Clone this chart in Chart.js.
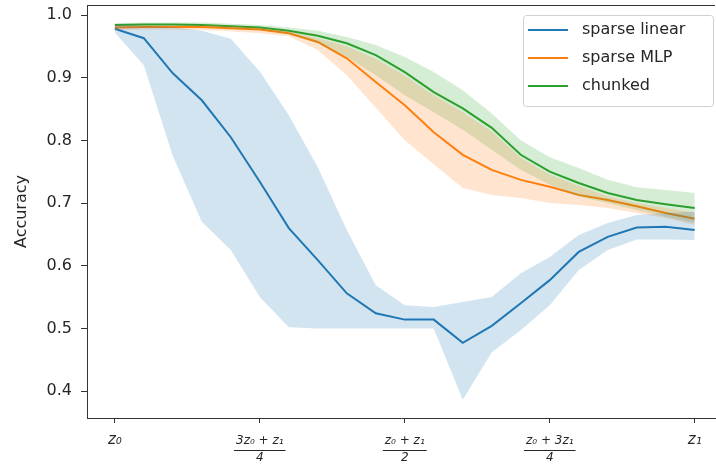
<!DOCTYPE html>
<html>
<head>
<meta charset="utf-8">
<script src="https://cdn.jsdelivr.net/npm/chart.js@4.4.1/dist/chart.umd.min.js"></script>
<style>
  body { margin: 0; background: #fff; }
  #wrap { width: 716px; height: 467px; }
</style>
</head>
<body>
<div id="wrap"><canvas id="chart" width="716" height="467"></canvas></div>
<script>
// positions along the interpolation z0 -> z1
const xValues = [0, 0.05, 0.1, 0.15, 0.2, 0.25, 0.3, 0.35, 0.4, 0.45, 0.5,
                 0.55, 0.6, 0.65, 0.7, 0.75, 0.8, 0.85, 0.9, 0.95, 1];
const xTickValues = [0, 0.25, 0.5, 0.75, 1];
const xTickLabels = [['z₀'], ['3z₀ + z₁', '4'], ['z₀ + z₁', '2'], ['z₀ + 3z₁', '4'], ['z₁']];
const yTickValues = [0.4, 0.5, 0.6, 0.7, 0.8, 0.9, 1.0];

const seriesNames = ['sparse linear', 'sparse MLP', 'chunked'];

const linearMean  = [0.978, 0.963, 0.907, 0.864, 0.805, 0.734, 0.660, 0.609, 0.556, 0.524, 0.514,
                     0.514, 0.477, 0.504, 0.540, 0.577, 0.622, 0.646, 0.661, 0.662, 0.657];
const linearUpper = [0.985, 0.983, 0.981, 0.975, 0.962, 0.910, 0.840, 0.757, 0.657, 0.569, 0.537,
                     0.534, 0.542, 0.550, 0.588, 0.614, 0.649, 0.668, 0.681, 0.684, 0.686];
const linearLower = [0.972, 0.920, 0.775, 0.670, 0.625, 0.550, 0.502, 0.500, 0.500, 0.500, 0.500,
                     0.500, 0.386, 0.462, 0.497, 0.537, 0.593, 0.625, 0.642, 0.642, 0.641];

const mlpMean  = [0.980, 0.981, 0.981, 0.981, 0.979, 0.977, 0.971, 0.957, 0.931, 0.893, 0.856,
                  0.813, 0.777, 0.753, 0.737, 0.726, 0.713, 0.705, 0.695, 0.684, 0.675];
const mlpUpper = [0.984, 0.984, 0.984, 0.984, 0.983, 0.980, 0.974, 0.963, 0.950, 0.930, 0.903,
                  0.872, 0.845, 0.814, 0.772, 0.745, 0.727, 0.711, 0.700, 0.692, 0.685];
const mlpLower = [0.976, 0.977, 0.977, 0.976, 0.974, 0.971, 0.966, 0.944, 0.904, 0.852, 0.800,
                  0.762, 0.724, 0.713, 0.708, 0.700, 0.697, 0.692, 0.684, 0.676, 0.665];

const chunkedMean  = [0.984, 0.985, 0.985, 0.984, 0.982, 0.980, 0.975, 0.967, 0.955, 0.936, 0.909,
                      0.877, 0.851, 0.820, 0.777, 0.750, 0.732, 0.716, 0.705, 0.698, 0.692];
const chunkedUpper = [0.987, 0.988, 0.988, 0.988, 0.986, 0.984, 0.980, 0.975, 0.965, 0.952, 0.933,
                      0.909, 0.880, 0.843, 0.800, 0.773, 0.756, 0.737, 0.725, 0.721, 0.716];
const chunkedLower = [0.981, 0.982, 0.982, 0.982, 0.979, 0.976, 0.970, 0.955, 0.933, 0.904, 0.872,
                      0.845, 0.817, 0.785, 0.753, 0.729, 0.710, 0.700, 0.689, 0.678, 0.668];

const colors = ['#1f77b4', '#ff7f0e', '#2ca02c'];
const bandColors = ['rgba(31,119,180,0.2)', 'rgba(255,127,14,0.2)', 'rgba(44,160,44,0.2)'];

function pts(ys) {
    return ys.map((y, i) => ({ x: xValues[i], y: y }));
}

function band(upper, lower, idx) {
    return [
        { data: pts(upper), borderWidth: 0, pointRadius: 0, fill: false },
        { data: pts(lower), borderWidth: 0, pointRadius: 0, fill: '-1',
          backgroundColor: bandColors[idx] }
    ];
}

function meanLine(ys, idx) {
    return { label: seriesNames[idx], data: pts(ys), borderColor: colors[idx],
             borderWidth: 2, pointRadius: 0, fill: false, tension: 0 };
}

const datasets = [
    ...band(linearUpper, linearLower, 0),
    ...band(mlpUpper, mlpLower, 1),
    ...band(chunkedUpper, chunkedLower, 2),
    meanLine(linearMean, 0),
    meanLine(mlpMean, 1),
    meanLine(chunkedMean, 2)
];

const textColor = '#262626';
const spineColor = '#333';
const fracFont = { family: 'DejaVu Sans', size: 12, style: 'italic', lineHeight: 1.42 };
const endFont = { family: 'DejaVu Sans', size: 15, style: 'italic', lineHeight: 1.0 };

// top spine, fraction bars under x tick labels, and the boxed legend
const decorations = {
    id: 'decorations',
    afterDraw(chart) {
        const ctx = chart.ctx;
        const area = chart.chartArea;
        ctx.save();
        ctx.strokeStyle = spineColor;
        ctx.lineWidth = 1;
        ctx.beginPath();
        ctx.moveTo(area.left, area.top + 0.5);
        ctx.lineTo(area.right, area.top + 0.5);
        ctx.stroke();

        // fraction bars
        const xs = chart.scales.x;
        ctx.font = 'italic 12px "DejaVu Sans"';
        xs.ticks.forEach((t, i) => {
            const lbl = xTickLabels[i];
            if (lbl.length < 2) return;
            const px = xs.getPixelForValue(t.value);
            const w = ctx.measureText(lbl[0]).width + 4;
            ctx.beginPath();
            ctx.moveTo(px - w / 2, 450.5);
            ctx.lineTo(px + w / 2, 450.5);
            ctx.strokeStyle = textColor;
            ctx.lineWidth = 1;
            ctx.stroke();
        });

        // legend
        const lx = 523, ly = 15, lw = 190, lh = 91;
        ctx.beginPath();
        ctx.roundRect(lx + 0.5, ly + 0.5, lw, lh, 3);
        ctx.fillStyle = 'rgba(255,255,255,0.8)';
        ctx.fill();
        ctx.strokeStyle = '#d0d0d0';
        ctx.stroke();
        ctx.font = '16px "DejaVu Sans"';
        ctx.textBaseline = 'middle';
        seriesNames.forEach((name, i) => {
            const y = 30 + i * 28;
            ctx.beginPath();
            ctx.moveTo(528, y);
            ctx.lineTo(568, y);
            ctx.strokeStyle = colors[i];
            ctx.lineWidth = 2;
            ctx.stroke();
            ctx.fillStyle = textColor;
            ctx.fillText(name, 582, y);
        });
        ctx.restore();
    }
};

new Chart(document.getElementById('chart'), {
    type: 'line',
    data: { datasets: datasets },
    options: {
        responsive: false,
        animation: false,
        layout: { padding: { top: 5, right: 1, left: 0, bottom: 0 } },
        plugins: {
            legend: { display: false },
            tooltip: { enabled: false }
        },
        scales: {
            x: {
                type: 'linear',
                min: -0.048,
                max: 1.035,
                afterBuildTicks: (scale) => { scale.ticks = xTickValues.map(v => ({ value: v })); },
                afterFit: (scale) => {
                    scale.height = 49;
                    scale.paddingLeft = 0;
                    scale.paddingRight = 0;
                },
                grid: { drawOnChartArea: false, tickLength: 5, tickColor: spineColor },
                border: { color: spineColor, width: 1 },
                ticks: {
                    maxRotation: 0,
                    autoSkip: false,
                    padding: 9.5,
                    color: textColor,
                    callback: (v, i) => xTickLabels[i],
                    font: (c) => (xTickLabels[c.index] && xTickLabels[c.index].length > 1) ? fracFont : endFont
                }
            },
            y: {
                min: 0.357,
                max: 1.016,
                afterBuildTicks: (scale) => { scale.ticks = yTickValues.map(v => ({ value: v })); },
                afterFit: (scale) => {
                    scale.width = 87;
                    scale.paddingTop = 0;
                    scale.paddingBottom = 0;
                },
                grid: { drawOnChartArea: false, tickLength: 6, tickColor: spineColor },
                border: { color: spineColor, width: 1 },
                title: {
                    display: true,
                    text: 'Accuracy',
                    color: textColor,
                    font: { family: 'DejaVu Sans', size: 16 },
                    padding: { top: 12, bottom: 0 }
                },
                ticks: {
                    padding: 9,
                    color: textColor,
                    font: { family: 'DejaVu Sans', size: 16 },
                    callback: (v) => v.toFixed(1)
                }
            }
        }
    },
    plugins: [decorations]
});
</script>
</body>
</html>
